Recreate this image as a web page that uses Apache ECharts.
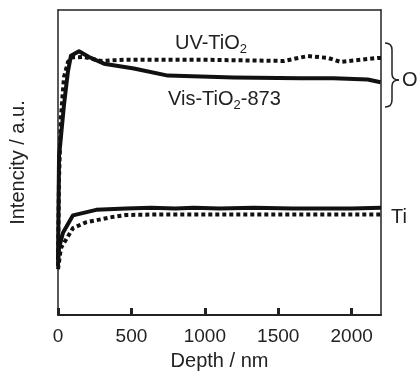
<!DOCTYPE html>
<html>
<head>
<meta charset="utf-8">
<script src="https://cdn.jsdelivr.net/npm/echarts@6/dist/echarts.min.js"></script>
<style>
  html, body { margin: 0; padding: 0; background: #fff; }
  #chart { width: 420px; height: 376px; }
</style>
</head>
<body>
<div id="chart"></div>
<script>
// depth (nm), intensity (a.u., 0..100)
const visO = [
  [0, 18], [7, 52], [41, 69], [68, 80], [88, 85], [143, 86.5], [211, 84.6],
  [313, 82.4], [517, 80.8], [748, 78.5], [973, 78.2], [1197, 77.9],
  [1653, 77.6], [1878, 77.6], [2109, 77.2], [2197, 76.3]
];
const uvO = [
  [0, 16], [7, 45], [20, 65], [41, 78], [68, 83], [100, 84.5], [177, 84.6],
  [293, 83.3], [449, 83.7], [973, 83.7], [1540, 83.3], [1700, 84.9],
  [1837, 84.3], [1925, 83.0], [2061, 83.7], [2177, 84.3], [2200, 84.3]
];
const visTi = [
  [0, 17], [7, 22], [34, 27], [102, 32.7], [260, 34.5], [463, 34.9],
  [633, 35.2], [800, 34.9], [925, 35.2], [1100, 34.9], [1333, 35.2],
  [1600, 34.9], [2000, 34.9], [2200, 35.2]
];
const uvTi = [
  [0, 15], [20, 22], [102, 28.5], [190, 30.4], [374, 32.2], [463, 32.8],
  [700, 33.0], [1200, 33.0], [1700, 33.0], [2200, 33.0]
];

const font = "'Liberation Sans', Arial, sans-serif";

const chart = echarts.init(document.getElementById("chart"), null, { renderer: "canvas" });

const lineSeries = (data, dotted) => ({
  type: "line",
  data: data,
  showSymbol: false,
  silent: true,
  lineStyle: {
    color: "#111",
    width: 4,
    type: dotted ? [4, 3] : "solid",
    cap: "butt",
    join: "round",
  },
});

const braceStyle = { stroke: "#222", lineWidth: 1.5, fill: null };
const curve = (x1, y1, cx, cy, x2, y2) => ({
  type: "bezierCurve",
  shape: { x1, y1, cpx1: cx, cpy1: cy, x2, y2 },
  style: braceStyle,
});
const seg = (x1, y1, x2, y2) => ({
  type: "line",
  shape: { x1, y1, x2, y2 },
  style: braceStyle,
});

const option = {
  animation: false,
  grid: { left: 56, right: 39, top: 10, bottom: 54 },
  xAxis: [
    {
      type: "value",
      min: 0,
      max: 2200,
      interval: 500,
      name: "Depth / nm",
      nameLocation: "middle",
      nameGap: 35,
      nameTextStyle: { fontFamily: font, fontSize: 20, color: "#222" },
      axisLine: { show: true, onZero: false, lineStyle: { color: "#222", width: 2 } },
      axisTick: { show: true, inside: true, length: 7, lineStyle: { color: "#222", width: 3 } },
      axisLabel: {
        fontFamily: font, fontSize: 19, color: "#222", margin: 12,
        showMaxLabel: false,
        formatter: (v) => String(v),
      },
      splitLine: { show: false },
    },
    {
      type: "value",
      position: "top",
      min: 0,
      max: 2200,
      axisLine: { show: true, onZero: false, lineStyle: { color: "#222", width: 1.5 } },
      axisTick: { show: false },
      axisLabel: { show: false },
      splitLine: { show: false },
    },
  ],
  yAxis: [
    {
      type: "value",
      min: 0,
      max: 100,
      name: "Intencity / a.u.",
      nameLocation: "middle",
      nameGap: 30,
      nameTextStyle: { fontFamily: font, fontSize: 20, color: "#222" },
      axisLine: { show: true, onZero: false, lineStyle: { color: "#222", width: 1.5 } },
      axisTick: { show: false },
      axisLabel: { show: false },
      splitLine: { show: false },
    },
    {
      type: "value",
      position: "right",
      min: 0,
      max: 100,
      axisLine: { show: true, onZero: false, lineStyle: { color: "#222", width: 1.5 } },
      axisTick: { show: false },
      axisLabel: { show: false },
      splitLine: { show: false },
    },
  ],
  series: [
    lineSeries(uvO, true),
    lineSeries(visO, false),
    lineSeries(uvTi, true),
    lineSeries(visTi, false),
  ],
  graphic: [
    {
      type: "text",
      left: 175,
      top: 33,
      style: {
        text: "UV-TiO{s|2}",
        font: "20px " + font,
        fill: "#222",
        rich: { s: { fontSize: 13, fontFamily: font, fill: "#222", padding: [12, 0, 0, 0] } },
      },
    },
    {
      type: "text",
      left: 168,
      top: 89,
      style: {
        text: "Vis-TiO{s|2}-873",
        font: "20px " + font,
        fill: "#222",
        rich: { s: { fontSize: 13, fontFamily: font, fill: "#222", padding: [12, 0, 0, 0] } },
      },
    },
    curve(385, 43, 392, 43, 392, 50),
    seg(392, 50, 392, 74),
    curve(392, 74, 392, 80, 399, 80),
    curve(399, 80, 392, 80, 392, 86),
    seg(392, 86, 392, 100),
    curve(392, 100, 392, 107, 385, 107),
    {
      type: "text",
      left: 402,
      top: 70,
      style: { text: "O", font: "20px " + font, fill: "#222" },
    },
    {
      type: "text",
      left: 391,
      top: 207,
      style: { text: "Ti", font: "20px " + font, fill: "#222" },
    },
  ],
};

chart.setOption(option);
window.addEventListener("resize", () => chart.resize());
</script>
</body>
</html>
